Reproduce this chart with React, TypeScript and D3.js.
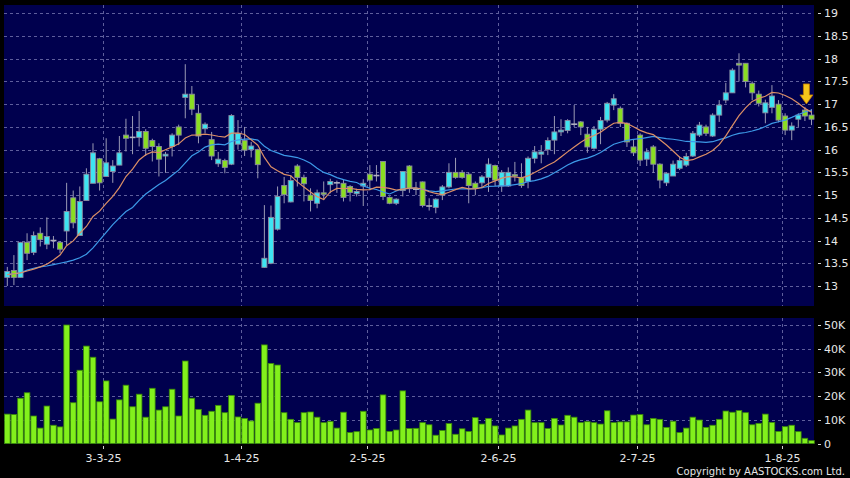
import React from 'react';
import * as d3 from 'd3';

// ---- data (daily candles, 10-Feb-2025 .. 7-Aug-2025) ----
const opens = [13.19,13.34,13.19,13.96,13.74,14.16,13.92,14.0,13.96,14.21,14.94,14.11,14.88,15.26,15.8,15.41,15.52,15.66,16.32,16.27,16.27,16.4,16.2,16.07,15.86,16.07,16.5,17.15,17.22,16.8,16.46,16.22,15.69,15.76,15.68,16.12,16.2,16.0,16.0,13.41,13.5,14.25,15.21,14.85,15.64,15.39,15.0,14.82,15.05,15.23,15.27,15.26,15.19,15.03,15.2,15.46,15.43,15.74,14.95,14.82,15.1,15.64,15.13,15.29,14.76,14.73,15.0,15.18,15.5,15.5,15.46,15.26,15.27,15.39,15.65,15.2,15.2,15.45,15.39,15.3,15.81,15.9,16.0,16.21,16.39,16.42,16.56,16.61,16.34,16.03,16.45,16.65,16.98,16.91,16.58,16.06,16.32,15.79,16.06,15.68,15.27,15.42,15.59,15.66,15.86,16.32,16.5,16.3,16.76,17.09,17.25,17.9,17.9,17.46,17.22,16.81,16.93,17.0,16.74,16.43,16.67,16.87,16.76];
const highs = [13.42,13.68,13.97,14.16,14.2,14.29,14.51,14.1,13.99,15.27,15.1,15.19,15.59,16.14,15.82,16.25,15.77,16.3,16.68,16.74,16.85,16.45,16.24,16.14,15.95,16.36,16.55,17.88,17.4,16.98,16.6,16.39,15.95,15.8,16.78,16.65,16.5,16.17,16.02,14.78,14.77,15.19,15.4,15.44,15.68,15.45,15.15,15.12,15.3,15.36,15.32,15.34,15.22,15.14,15.35,15.66,15.66,15.75,14.97,14.93,15.53,15.66,15.29,15.3,14.93,14.93,15.22,15.7,15.82,15.55,15.5,15.3,15.44,15.81,15.67,15.55,15.61,15.73,15.7,15.85,16.08,16.1,16.27,16.74,16.67,16.67,16.98,16.63,16.5,16.52,16.72,17.05,17.22,16.95,16.6,16.23,16.36,16.03,16.1,15.7,15.5,15.76,15.85,15.93,16.41,16.61,16.55,16.8,17.09,17.47,17.79,18.12,17.9,17.5,17.3,17.1,17.42,17.09,16.8,16.6,16.8,16.94,16.89];
const lows = [13.0,13.02,13.19,13.57,13.68,13.87,13.81,13.83,13.72,13.9,14.27,14.11,14.88,15.26,15.1,15.41,15.27,15.66,15.96,15.9,16.07,15.86,15.74,15.41,15.49,15.85,16.1,16.69,16.76,16.14,16.36,15.77,15.62,15.48,15.66,16.0,15.86,15.83,15.37,13.4,13.48,14.22,14.82,14.84,15.19,14.86,14.64,14.71,14.89,15.04,15.05,14.86,14.86,14.97,14.76,15.11,15.3,14.89,14.8,14.78,14.97,15.05,15.0,14.73,14.66,14.6,14.89,15.15,15.36,15.36,14.82,15.0,15.15,15.07,15.2,15.07,15.18,15.3,15.16,15.15,15.7,15.7,15.88,15.9,16.3,16.36,16.5,16.32,15.93,16.0,16.12,16.6,16.87,16.5,16.06,15.86,15.64,15.64,15.49,15.15,15.2,15.42,15.55,15.62,15.84,16.28,16.3,16.28,16.61,17.02,17.25,17.5,17.37,17.09,16.95,16.58,16.8,16.6,16.32,16.21,16.5,16.63,16.54];
const closes = [13.32,13.19,13.96,13.72,14.11,14.02,14.09,14.0,13.81,14.64,14.39,14.86,15.46,15.93,15.27,15.71,15.64,15.93,16.25,16.27,16.4,16.03,16.07,15.79,15.9,16.32,16.32,17.22,16.89,16.3,16.56,15.86,15.79,15.61,16.75,16.36,15.99,16.08,15.67,13.61,14.51,14.97,15.01,15.32,15.39,15.25,14.88,15.05,15.03,15.3,15.27,14.95,15.06,15.08,15.26,15.33,15.43,14.97,14.82,14.91,15.52,15.14,15.13,14.77,14.76,14.91,15.18,15.5,15.39,15.39,15.21,15.15,15.4,15.68,15.33,15.5,15.5,15.43,15.21,15.81,15.95,15.95,16.2,16.39,16.43,16.64,16.56,16.5,16.06,16.45,16.64,17.02,17.12,16.58,16.17,15.93,15.77,15.95,15.68,15.33,15.48,15.68,15.76,15.85,16.36,16.54,16.36,16.76,16.98,17.25,17.75,17.86,17.5,17.25,17.02,17.03,17.18,16.65,16.43,16.52,16.76,16.74,16.67];
const volumes = [12400,12200,19100,21400,11600,6500,15800,7700,7000,50000,17200,30900,41100,36400,17600,26400,10300,18400,24600,15500,20800,11100,23300,14100,15500,22900,11600,34800,19100,14400,11900,13600,16100,13000,20300,11200,10600,9500,17000,41600,33800,33100,13000,10200,8800,13000,13300,11100,8800,9300,6500,13200,4600,5000,13600,5700,6300,20500,5100,5700,22200,6300,6400,8800,7900,3500,5500,8400,3900,6200,5100,10900,8200,10600,7400,3600,6500,7400,10200,14100,8800,8800,6300,10600,7800,11900,11100,8800,9200,8800,8200,13800,8800,9100,9100,12000,12200,7900,10600,10200,6800,9400,4600,6500,11100,9900,6800,7700,10200,13700,13200,13900,13000,7900,8500,12400,8900,5100,7100,7700,5000,2200,1200];
// moving averages before a full window exists
const ma10Early = [13.25,13.27,13.29,13.33,13.37,13.42,13.48,13.57,13.68];
const ma20Early = [13.25,13.27,13.29,13.35,13.39,13.42,13.44,13.47,13.5,13.53,13.57,13.62,13.7,13.84,14.01,14.18,14.35,14.5,14.64];
const monthLabels = ['3-3-25', '1-4-25', '2-5-25', '2-6-25', '2-7-25', '1-8-25'];
const monthIndex = [15, 36, 55, 75, 96, 118];
const priceTicks = [13, 13.5, 14, 14.5, 15, 15.5, 16, 16.5, 17, 17.5, 18, 18.5, 19];
const volTicks = [0, 10000, 20000, 30000, 40000, 50000];
const markerIndex = 121;

const W = 850, H = 478;
const LEFT = 4, RIGHT = 814;
const P_TOP = 5, P_BOT = 306;
const V_TOP = 318, V_BOT = 444;

const BG = '#00004e';
const GRID = '#5e5e9c';
const UP = '#3ee4f2';
const DOWN = '#8ade22';
const FONT = 'DejaVu Sans, Verdana, sans-serif';

function sma(period: number, early: number[]) {
  return closes.map((_, i) => {
    if (i < period - 1) return early[i];
    const s = d3.sum(closes.slice(i - period + 1, i + 1));
    return s / period;
  });
}

export default function App() {
  const x = d3.scaleLinear().domain([0, closes.length - 1]).range([7.3, 811.5]);
  const slot = x(1) - x(0);
  const y = d3.scaleLinear().domain([13, 19]).range([286, 13.3]);
  const yv = d3.scaleLinear().domain([0, 50000]).range([443.5, 325]);

  const ma10 = sma(10, ma10Early);
  const ma20 = sma(20, ma20Early);
  const line = d3.line<number>().x((_, i) => x(i)).y((d) => y(d));

  const bw = 5;
  const fmtP = (v: number) => (Number.isInteger(v) ? String(v) : v.toFixed(1));
  const fmtV = (v: number) => (v === 0 ? '0' : `${v / 1000}K`);

  const mx = x(markerIndex) + 1.5;
  const my = y(highs[markerIndex]) - 3;

  return (
    <svg width={W} height={H} style={{ position: 'absolute', left: 0, top: 0, background: '#000' }}>
      <rect x={0} y={0} width={W} height={H} fill="#000" />
      {/* panels */}
      <rect x={LEFT} y={P_TOP} width={RIGHT - LEFT} height={P_BOT - P_TOP} fill={BG} />
      <rect x={LEFT} y={V_TOP} width={RIGHT - LEFT} height={V_BOT - V_TOP} fill={BG} />

      {/* price grid */}
      {priceTicks.map((t) => (
        <line key={'pg' + t} x1={LEFT} x2={RIGHT} y1={Math.round(y(t)) + 0.5} y2={Math.round(y(t)) + 0.5}
          stroke={GRID} strokeDasharray="3,3" strokeWidth={1} />
      ))}
      {volTicks.slice(1).map((t) => (
        <line key={'vg' + t} x1={LEFT} x2={RIGHT} y1={Math.round(yv(t)) + 0.5} y2={Math.round(yv(t)) + 0.5}
          stroke={GRID} strokeDasharray="3,3" strokeWidth={1} />
      ))}
      {monthIndex.map((m) => {
        const gx = Math.round(x(m) - slot / 2) + 0.5;
        return (
          <g key={'mg' + m}>
            <line x1={gx} x2={gx} y1={P_TOP} y2={P_BOT} stroke={GRID} strokeDasharray="3,3" />
            <line x1={gx} x2={gx} y1={V_TOP} y2={V_BOT} stroke={GRID} strokeDasharray="3,3" />
          </g>
        );
      })}

      {/* volume bars */}
      {volumes.map((v, i) => (
        <rect key={'v' + i} x={x(i) - 2.8} y={yv(v)} width={5.6} height={yv(0) - yv(v)}
          fill="#82f01c" stroke="#3a8a08" strokeWidth={0.8} />
      ))}

      {/* candles */}
      {closes.map((c, i) => {
        const o = opens[i];
        const cx = x(i);
        const doji = Math.abs(c - o) < 0.015;
        const top = y(Math.max(o, c));
        const bot = y(Math.min(o, c));
        return (
          <g key={'c' + i}>
            <line x1={cx} x2={cx} y1={y(highs[i])} y2={y(lows[i])} stroke="#9a9ab4" strokeWidth={1} />
            {doji ? (
              <line x1={cx - bw / 2 - 0.5} x2={cx + bw / 2 + 0.5} y1={top} y2={top} stroke="#b0b0c0" strokeWidth={1.6} />
            ) : (
              <rect x={cx - bw / 2} y={top} width={bw} height={Math.max(bot - top, 1.5)}
                fill={c > o ? UP : DOWN} stroke="#8a8aa0" strokeWidth={0.9} />
            )}
          </g>
        );
      })}

      {/* moving averages */}
      <path d={line(ma20) || ''} fill="none" stroke="#3d9ae8" strokeWidth={1.2} />
      <path d={line(ma10) || ''} fill="none" stroke="#dc8f66" strokeWidth={1.2} />

      {/* marker arrow */}
      <path
        d={`M${mx - 3},${my - 20} L${mx + 3},${my - 20} L${mx + 3},${my - 9} L${mx + 6.5},${my - 9} L${mx},${my} L${mx - 6.5},${my - 9} L${mx - 3},${my - 9} Z`}
        fill="#f7c51a" stroke="#c07a00" strokeWidth={0.8} />

      {/* right axes */}
      {priceTicks.map((t) => (
        <g key={'pl' + t}>
          <line x1={818} x2={821} y1={Math.round(y(t)) + 0.5} y2={Math.round(y(t)) + 0.5} stroke="#d0d0d0" />
          <text x={824} y={y(t) + 4} fill="#e6e6e6" fontSize={11} fontFamily={FONT}>{fmtP(t)}</text>
        </g>
      ))}
      {volTicks.map((t) => (
        <g key={'vl' + t}>
          <line x1={818} x2={821} y1={Math.round(yv(t)) + 0.5} y2={Math.round(yv(t)) + 0.5} stroke="#d0d0d0" />
          <text x={824} y={yv(t) + 4} fill="#e6e6e6" fontSize={11} fontFamily={FONT}>{fmtV(t)}</text>
        </g>
      ))}

      {/* date axis */}
      {monthIndex.map((m, k) => {
        const gx = Math.round(x(m) - slot / 2) + 0.5;
        return (
          <g key={'ml' + m}>
            <line x1={gx} x2={gx} y1={446} y2={449} stroke="#d0d0d0" />
            <text x={gx} y={462} fill="#e6e6e6" fontSize={11} fontFamily={FONT} textAnchor="middle">{monthLabels[k]}</text>
          </g>
        );
      })}
      <text x={845} y={475} fill="#e6e6e6" fontSize={10} fontFamily={FONT} textAnchor="end">
        Copyright by AASTOCKS.com Ltd.
      </text>
    </svg>
  );
}
